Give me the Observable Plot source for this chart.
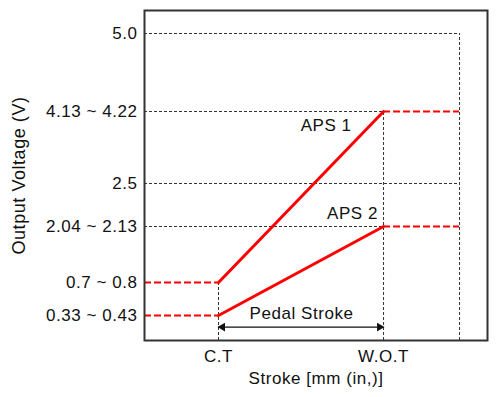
<!DOCTYPE html>
<html>
<head>
<meta charset="utf-8">
<script src="https://cdn.jsdelivr.net/npm/d3@7"></script>
<script src="https://cdn.jsdelivr.net/npm/@observablehq/plot@0.6"></script>
<style>
  body { margin: 0; background: #fff; }
  svg text { letter-spacing: 0.55px; }
</style>
</head>
<body>
<div id="chart"></div>
<script>
// Data
const strokeTicks = [0, 1];
const strokeLabels = ["C.T", "W.O.T"];
const voltTicks = [5.0, 4.175, 2.5, 2.085, 0.75, 0.38];
const voltLabels = ["5.0", "4.13 ~ 4.22", "2.5", "2.04 ~ 2.13", "0.7 ~ 0.8", "0.33 ~ 0.43"];
const aps1 = [0.75, 4.175];   // at C.T, W.O.T
const aps2 = [0.38, 2.085];
const xMin = -0.4485, xMax = 1.630, xLimit = 1.4606;
const yBottom = 0.1, yTop = 5.38;

// schematic (non-linear) voltage axis: voltage -> drawn level
const voltKnots = [yBottom, 0.38, 0.75, 2.085, 2.5, 4.175, 5.0, yTop];
const levelKnots = [0, 25, 58, 114, 157, 229, 307, 330];
const level = d3.scaleLinear().domain(voltKnots).range(levelKnots);

const aps1Line = strokeTicks.map((s, i) => ({x: s, y: aps1[i]}));
const aps2Line = strokeTicks.map((s, i) => ({x: s, y: aps2[i]}));
const redDash = [
  {x1: xMin, x2: 0, y: aps1[0]},
  {x1: 1, x2: xLimit, y: aps1[1]},
  {x1: xMin, x2: 0, y: aps2[0]},
  {x1: 1, x2: xLimit, y: aps2[1]}
];
const fullGrid = [5.0, 2.5];
const partGrid = [aps1[1], aps2[1]];
const vGrid = [
  {x: 0, y1: yBottom, y2: aps1[0]},
  {x: 1, y1: yBottom, y2: aps1[1]},
  {x: xLimit, y1: yBottom, y2: 5.0}
];
const tickMap = new Map(voltTicks.map((v, i) => [level(v), voltLabels[i]]));
const xTickMap = new Map(strokeTicks.map((v, i) => [v, strokeLabels[i]]));
const arrowY = 0.25;

const font = "'Liberation Sans', Arial, Helvetica, sans-serif";
const fs = 17;
const plot = Plot.plot({
  width: 497,
  height: 397,
  marginTop: 10,
  marginBottom: 57,
  marginLeft: 144,
  marginRight: 10,
  style: {fontFamily: font, fontSize: "17px", color: "#111", background: "#fff"},
  x: {domain: [xMin, xMax]},
  y: {domain: [level(yBottom), level(yTop)]},
  marks: [
    Plot.ruleY(fullGrid, {y: d => level(d), x1: xMin, x2: xLimit, stroke: "#333", strokeWidth: 1, strokeDasharray: "3,2"}),
    Plot.ruleY(partGrid, {y: d => level(d), x1: xMin, x2: 1, stroke: "#333", strokeWidth: 1, strokeDasharray: "3,2"}),
    Plot.ruleX(vGrid, {x: "x", y1: d => level(d.y1), y2: d => level(d.y2), stroke: "#333", strokeWidth: 1, strokeDasharray: "3,2"}),
    Plot.ruleY(redDash, {y: d => level(d.y), x1: "x1", x2: "x2", stroke: "#ff0000", strokeWidth: 2, strokeDasharray: "7,3"}),
    Plot.line(aps1Line, {x: "x", y: d => level(d.y), stroke: "#ff0000", strokeWidth: 3}),
    Plot.line(aps2Line, {x: "x", y: d => level(d.y), stroke: "#ff0000", strokeWidth: 3}),
    Plot.ruleY([arrowY], {y: d => level(d), x1: 0, x2: 1, stroke: "#111", strokeWidth: 1.3}),
    Plot.dot([{x: 0, r: -90}], {x: "x", y: () => level(arrowY), symbol: "triangle", r: 3.2, fill: "#111", rotate: "r", dx: 4}),
    Plot.dot([{x: 1, r: 90}], {x: "x", y: () => level(arrowY), symbol: "triangle", r: 3.2, fill: "#111", rotate: "r", dx: -4}),
    Plot.text(["APS 1"], {x: 0.652, y: () => level(3.85), text: d => d, fill: "#111", fontSize: fs}),
    Plot.text(["APS 2"], {x: 0.812, y: () => level(2.21), text: d => d, fill: "#111", fontSize: fs}),
    Plot.text(["Pedal Stroke"], {x: 0.503, y: () => level(0.40), text: d => d, fill: "#111", fontSize: fs}),
    Plot.axisY({ticks: voltTicks.map(level), tickFormat: d => tickMap.get(d), tickSize: 0, tickPadding: 7, label: null, fontSize: fs}),
    Plot.axisX({ticks: strokeTicks, tickFormat: d => xTickMap.get(d), tickSize: 0, tickPadding: 9, label: null, fontSize: fs}),
    Plot.text(["Output Voltage (V)"], {frameAnchor: "left", dx: -125, rotate: -90, textAnchor: "middle", lineAnchor: "middle", text: d => d, fill: "#111", fontSize: 18}),
    Plot.text(["Stroke [mm (in,)]"], {frameAnchor: "bottom", dy: 38, textAnchor: "middle", lineAnchor: "middle", text: d => d, fill: "#111", fontSize: fs}),
    Plot.frame({stroke: "#333", strokeWidth: 2})
  ]
});
document.getElementById("chart").appendChild(plot);
</script>
</body>
</html>
